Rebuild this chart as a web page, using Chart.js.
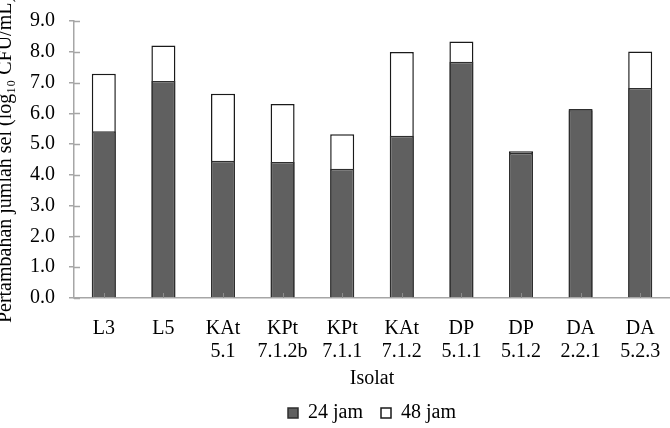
<!DOCTYPE html>
<html>
<head>
<meta charset="utf-8">
<script src="https://cdn.jsdelivr.net/npm/chart.js@4"></script>
<style>
  html, body { margin: 0; padding: 0; background: #fff; overflow: hidden; }
  #wrap { position: absolute; left: -6px; top: 0; width: 676px; height: 433px; }
</style>
</head>
<body>
<div id="wrap"><canvas id="chart-isolat" width="676" height="433"></canvas></div>
<script>
// Isolat dan pertambahan jumlah sel (log10 CFU/mL)
const isolat = [
  ['L3'], ['L5'], ['KAt', '5.1'], ['KPt', '7.1.2b'], ['KPt', '7.1.1'],
  ['KAt', '7.1.2'], ['DP', '5.1.1'], ['DP', '5.1.2'], ['DA', '2.2.1'], ['DA', '5.2.3']
];
const jam24 = [5.42, 7.05, 4.46, 4.42, 4.20, 5.27, 7.68, 4.71, 6.14, 6.82];
const jam48 = [7.29, 8.20, 6.64, 6.30, 5.32, 7.99, 8.33, 4.77, 6.10, 8.01];
const yTicks = [0, 1, 2, 3, 4, 5, 6, 7, 8, 9];

const serif = '"Liberation Serif", "Times New Roman", serif';
const axisGray = '#a6a6a6';

// tanda tick ke dalam area plot (gaya Excel)
const innerTicks = {
  id: 'innerTicks',
  afterDatasetsDraw(chart) {
    const { ctx, scales: { x, y } } = chart;
    ctx.save();
    ctx.lineWidth = 1.5;
    ctx.strokeStyle = axisGray;
    yTicks.forEach(v => {
      const py = Math.round(y.getPixelForValue(v)) + 0.5;
      ctx.beginPath();
      ctx.moveTo(x.left, py);
      ctx.lineTo(x.left + 6, py);
      ctx.stroke();
    });
    ctx.strokeStyle = '#8c8c8c';
    ctx.lineWidth = 1;
    isolat.forEach((_, i) => {
      const px = Math.round(x.getPixelForValue(i)) + 0.5;
      ctx.beginPath();
      ctx.moveTo(px, y.bottom);
      ctx.lineTo(px, y.bottom - 5);
      ctx.stroke();
    });
    ctx.restore();
  }
};

const ctx = document.getElementById('chart-isolat');

new Chart(ctx, {
  type: 'bar',
  data: {
    labels: isolat,
    datasets: [
      {
        label: '24 jam',
        data: jam24,
        backgroundColor: '#606060',
        borderColor: '#2e2e2e',
        borderWidth: 1.5,
        grouped: false,
        barPercentage: 0.403,
        categoryPercentage: 1
      },
      {
        label: '48 jam',
        data: jam48,
        backgroundColor: '#ffffff',
        borderColor: '#1a1a1a',
        borderWidth: 1.5,
        grouped: false,
        barPercentage: 0.403,
        categoryPercentage: 1
      }
    ]
  },
  options: {
    responsive: false,
    animation: false,
    layout: { padding: { top: 21, right: 0, left: 0, bottom: 0 } },
    plugins: {
      tooltip: { enabled: false },
      legend: {
        position: 'bottom',
        fullSize: false,
        labels: {
          boxWidth: 10,
          boxHeight: 10,
          padding: 18,
          color: '#000',
          font: { family: serif, size: 20 }
        }
      }
    },
    scales: {
      x: {
        grid: { drawOnChartArea: false, drawTicks: false },
        border: { color: axisGray, width: 1.5 },
        ticks: {
          color: '#000',
          padding: 19,
          maxRotation: 0,
          autoSkip: false,
          font: { family: serif, size: 20, lineHeight: 1.15 }
        },
        title: {
          display: true,
          text: 'Isolat',
          color: '#000',
          padding: { top: 0, bottom: -6 },
          font: { family: serif, size: 20, lineHeight: 1.2 }
        },
        afterFit: (scale) => {
          scale.height = 87;
          scale.paddingLeft = 0;
          scale.paddingRight = 0;
        }
      },
      y: {
        min: 0,
        max: 9,
        afterBuildTicks: (scale) => { scale.ticks = yTicks.map(v => ({ value: v })); },
        grid: { drawOnChartArea: false, tickLength: 5, color: axisGray, lineWidth: 1.5 },
        border: { color: axisGray, width: 1.5 },
        ticks: {
          color: '#000',
          padding: 14,
          font: { family: serif, size: 20 },
          callback: (v) => Number(v).toFixed(1)
        },
        title: {
          display: true,
          text: 'Pertambahan jumlah sel (log₁₀ CFU/mL)',
          color: '#000',
          padding: { top: 0, bottom: 0 },
          font: { family: serif, size: 20, lineHeight: 1.2 }
        },
        afterFit: (scale) => {
          scale.width = 80;
          scale.paddingTop = 0;
          scale.paddingBottom = 0;
        }
      }
    }
  },
  plugins: [innerTicks]
});
</script>
</body>
</html>
